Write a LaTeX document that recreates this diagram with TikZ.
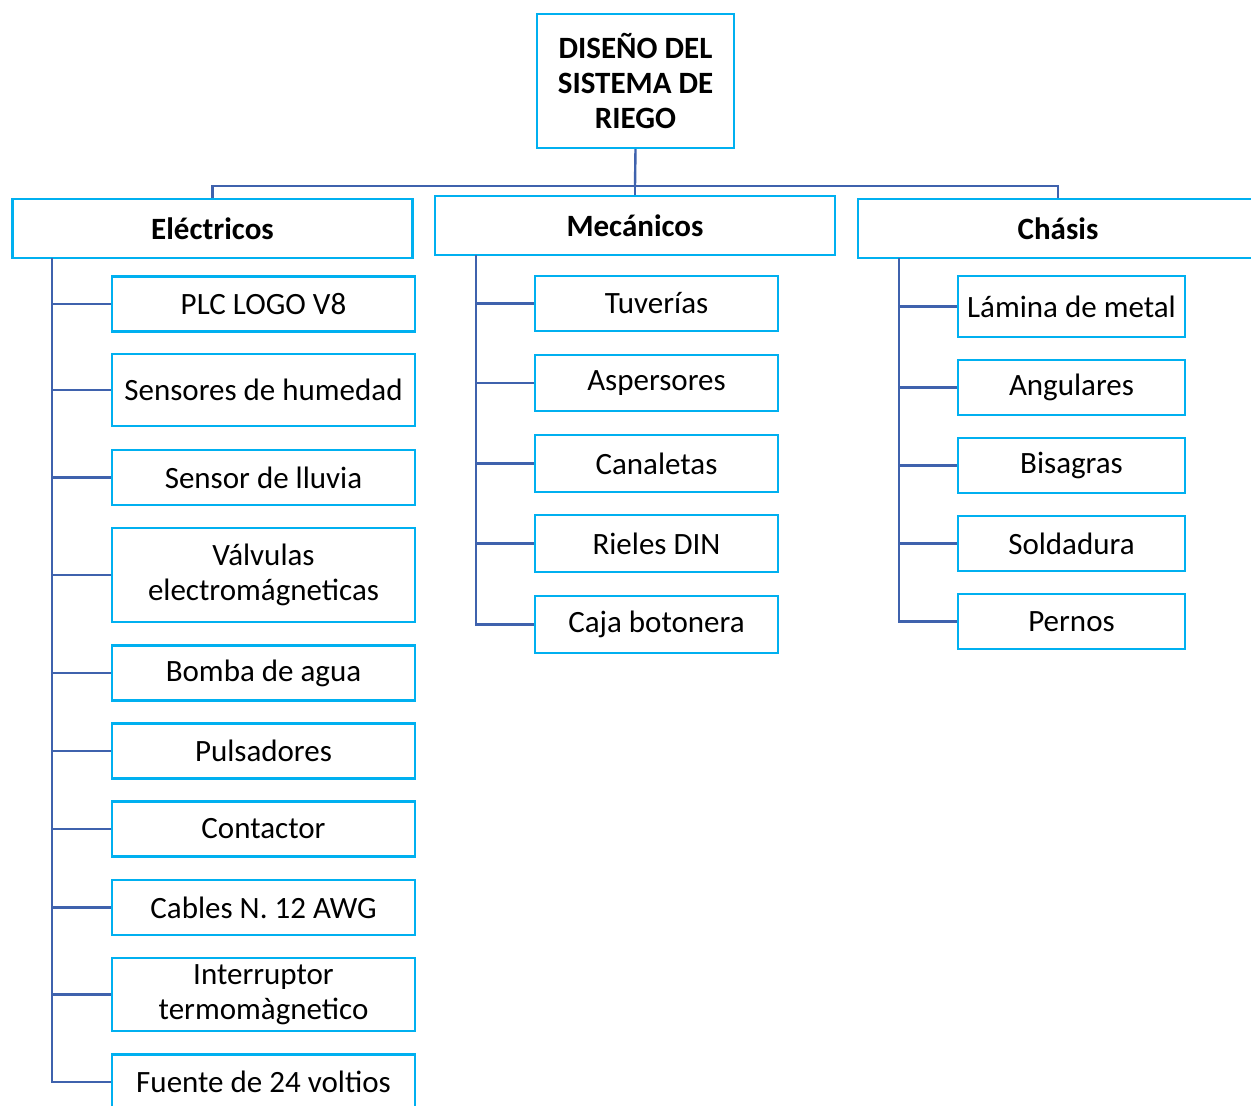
\documentclass[tikz,border=0pt]{standalone}
\usepackage{fontspec}
\setmainfont{Carlito}
\usepackage{xcolor}
\usepackage{tikz}

\definecolor{boxcyan}{RGB}{0,176,240}
\definecolor{linkblue}{RGB}{63,98,173}

\begin{document}
\begin{tikzpicture}[
  x=1pt, y=-1pt,
  every node/.style={draw=boxcyan, line width=2.4pt, inner sep=0pt, align=center,
    font=\fontsize{31}{35}\selectfont},
  group/.style={minimum width=400pt, minimum height=59pt, font=\fontsize{31}{35}\selectfont\bfseries},
  item/.style={minimum height=55pt},
  elecitem/.style={item, minimum width=303pt},
  mecitem/.style={item, minimum width=243pt},
  chasitem/.style={item, minimum width=227pt},
  link/.style={draw=linkblue, line width=2.4pt}
]
  \useasboundingbox (0,0) rectangle (1251,1106);

  \node[minimum width=197pt, minimum height=134pt, font=\fontsize{31}{35}\selectfont\bfseries]
    (root) at (635.5,81) {DISEÑO DEL\\SISTEMA DE\\RIEGO};

  \node[group] (elec) at (212.5,228.5) {Eléctricos};
  \node[group] (mec) at (635,225.5) {Mecánicos};
  \node[group] (chas) at (1058,228.5) {Chásis};

  % electricos
  \node[elecitem] (plc) at (263.5,304) {PLC LOGO V8};
  \node[elecitem, minimum height=72pt] (humedad) at (263.5,390) {Sensores de humedad};
  \node[elecitem] (lluvia) at (263.5,477.5) {Sensor de lluvia};
  \node[elecitem, minimum height=94pt] (valvulas) at (263.5,575) {Válvulas\\electromágneticas};
  \node[elecitem] (bomba) at (263.5,673) {Bomba de agua};
  \node[elecitem] (pulsa) at (263.5,751) {Pulsadores};
  \node[elecitem] (contactor) at (263.5,829) {Contactor};
  \node[elecitem] (cables) at (263.5,907.5) {Cables N. 12 AWG};
  \node[elecitem, minimum height=73pt] (interr) at (263.5,994.5) {Interruptor\\termomàgnetico};
  \node[elecitem] (fuente) at (263.5,1082) {Fuente de 24 voltios};

  % mecanicos
  \node[mecitem] (tuv) at (656.5,303.5) {Tuverías};
  \node[mecitem, minimum height=56pt] (asper) at (656.5,383) {Aspersores};
  \node[mecitem, minimum height=57pt] (canal) at (656.5,463.5) {Canaletas};
  \node[mecitem, minimum height=57pt] (rieles) at (656.5,543.5) {Rieles DIN};
  \node[mecitem, minimum height=57pt] (caja) at (656.5,624.5) {Caja botonera};

  % chasis
  \node[chasitem, minimum height=61pt] (lamina) at (1071.5,306.5) {Lámina de metal};
  \node[chasitem] (angul) at (1071.5,387.5) {Angulares};
  \node[chasitem] (bisag) at (1071.5,465.5) {Bisagras};
  \node[chasitem] (solda) at (1071.5,543.5) {Soldadura};
  \node[chasitem] (pernos) at (1071.5,621.5) {Pernos};

  \coordinate (bus) at (635,186);
  \coordinate (etrunk) at (52,258);
  \coordinate (mtrunk) at (476,255);
  \coordinate (ctrunk) at (899,258);

  \draw[link] (root.south) -- (bus);
  \draw[link] (bus) -| (elec.north);
  \draw[link] (bus) -| (chas.north);
  \draw[link] (bus) -- (mec.north);

  \foreach \n in {plc,humedad,lluvia,valvulas,bomba,pulsa,contactor,cables,interr,fuente}
    \draw[link] (etrunk) |- (\n.west);
  \foreach \n in {tuv,asper,canal,rieles,caja}
    \draw[link] (mtrunk) |- (\n.west);
  \foreach \n in {lamina,angul,bisag,solda,pernos}
    \draw[link] (ctrunk) |- (\n.west);
\end{tikzpicture}
\end{document}
